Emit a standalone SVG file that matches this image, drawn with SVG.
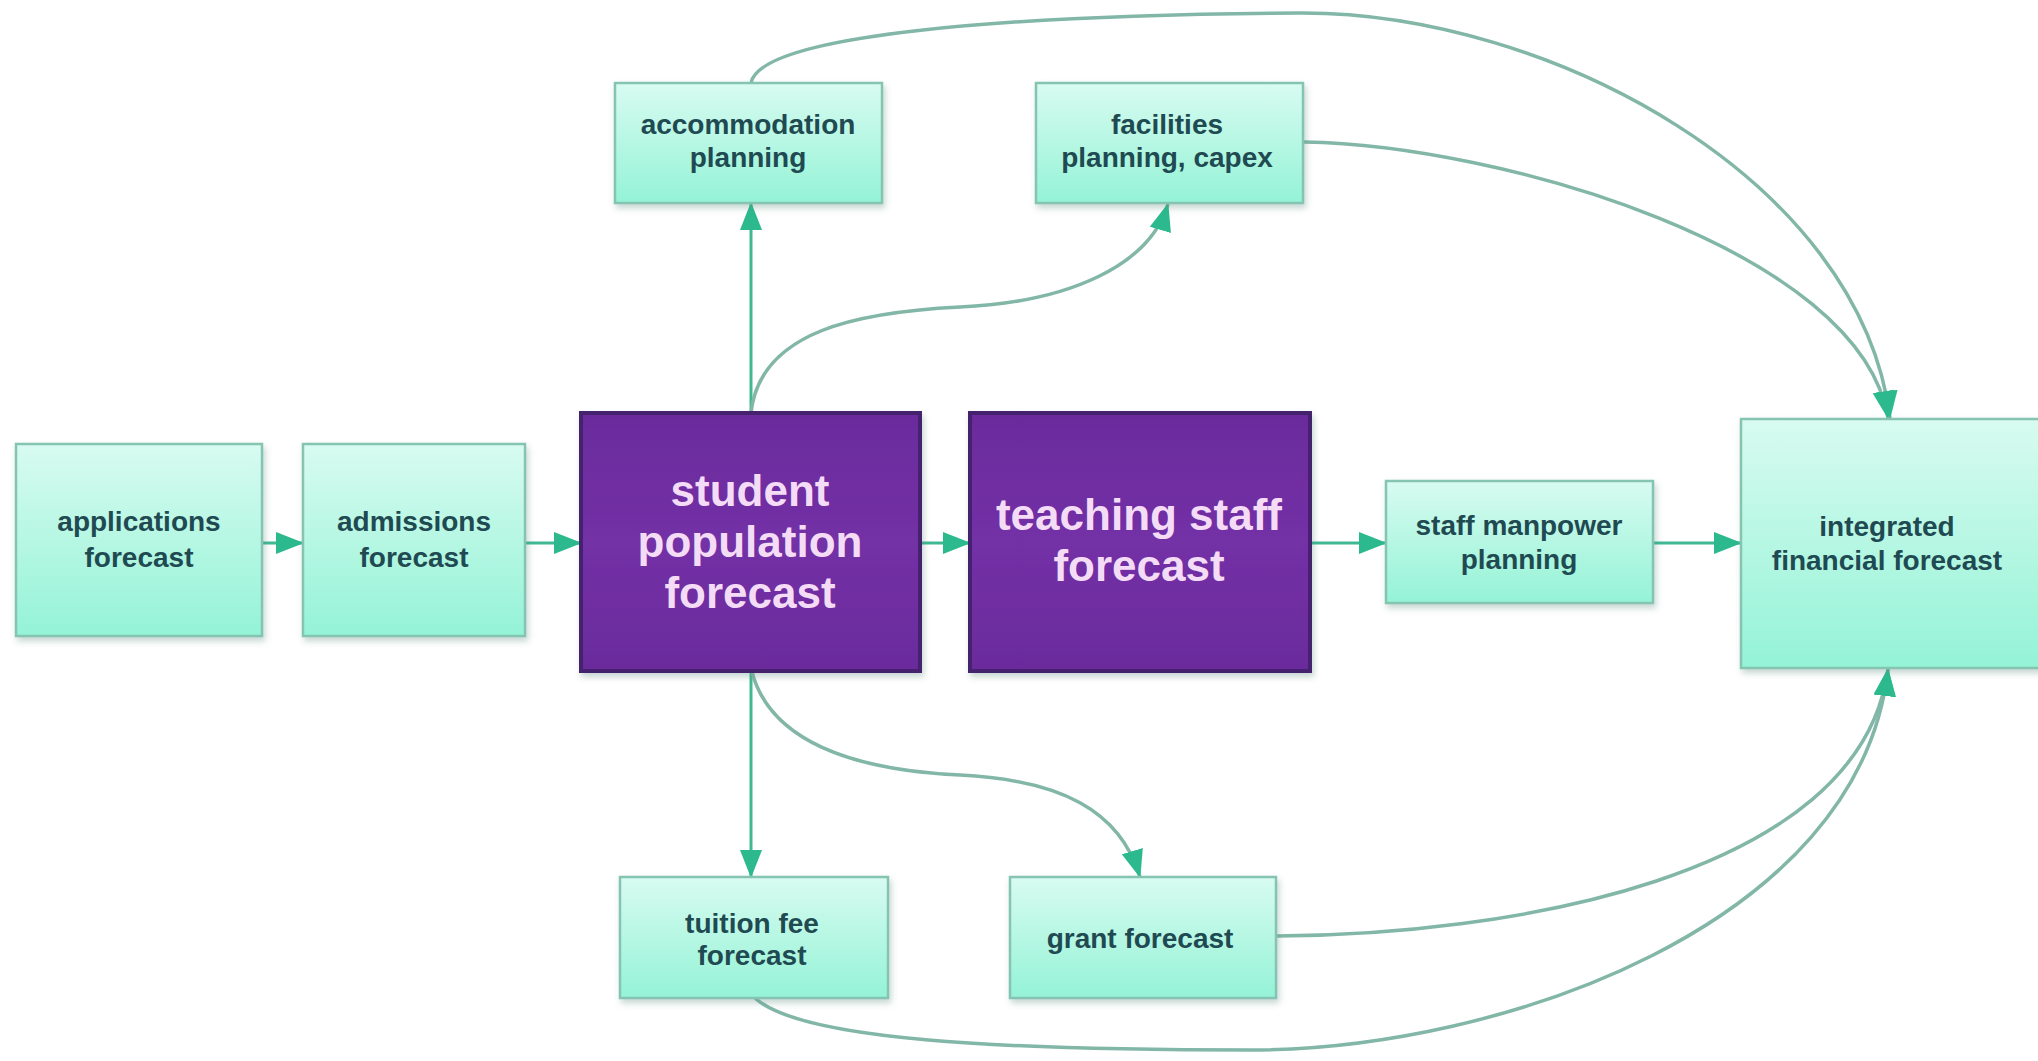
<svg xmlns="http://www.w3.org/2000/svg" width="2038" height="1061" viewBox="0 0 2038 1061">
<defs>
<linearGradient id="mint" x1="0" y1="0" x2="0" y2="1">
<stop offset="0" stop-color="#d8fbf1"/>
<stop offset="1" stop-color="#94f3d6"/>
</linearGradient>
<linearGradient id="purp" x1="0" y1="0" x2="0" y2="1">
<stop offset="0" stop-color="#6a2c9c"/>
<stop offset="0.5" stop-color="#7330a6"/>
<stop offset="1" stop-color="#6a2c9c"/>
</linearGradient>
<filter id="sh" x="-10%" y="-10%" width="125%" height="130%">
<feDropShadow dx="2" dy="4" stdDeviation="3" flood-color="#5a8a7e" flood-opacity="0.35"/>
</filter>
<marker id="ah" viewBox="0 0 28 22" refX="27" refY="11" markerWidth="28" markerHeight="22" markerUnits="userSpaceOnUse" orient="auto">
<path d="M0,0 L28,11 L0,22 z" fill="#2bb98d"/>
</marker>
<style>
.lb{fill:url(#mint);stroke:#86c4b2;stroke-width:2.5;filter:url(#sh)}
.pb{fill:url(#purp);stroke:#45206e;stroke-width:4;filter:url(#sh)}
.lt{font-family:"Liberation Sans",Arial,sans-serif;font-weight:bold;font-size:28px;fill:#1f4a52;text-anchor:middle}
.pt{font-family:"Liberation Sans",Arial,sans-serif;font-weight:bold;font-size:44px;fill:#f4dcf6;text-anchor:middle}
.st{fill:none;stroke:#3fb893;stroke-width:3;marker-end:url(#ah)}
.cv{fill:none;stroke:#82b7a8;stroke-width:3.5;marker-end:url(#ah)}
</style>
</defs>
<rect width="2038" height="1061" fill="#ffffff"/>

<g id="connectors">
<path class="st" d="M262,543 H303"/>
<path class="st" d="M525,543 H581"/>
<path class="st" d="M920,543 H970"/>
<path class="st" d="M1310,543 H1386"/>
<path class="st" d="M1653,543 H1741"/>
<path class="st" d="M751,413 V203"/>
<path class="st" d="M751,671 V877"/>
<path class="cv" d="M751,413 C760,330 860,312 960,307 C1070,302 1150,265 1168,204"/>
<path class="cv" d="M752,672 C770,740 850,770 960,775 C1060,780 1120,810 1140,877"/>
<path class="cv" d="M751,83 C760,35 1000,15 1300,13 C1550,12 1860,180 1890,418"/>
<path class="cv" d="M1304,142 C1500,145 1860,250 1888,418"/>
<path class="cv" d="M1277,936 C1500,935 1860,880 1888,669"/>
<path class="cv" d="M755,998 C800,1040 1000,1050 1250,1050 C1500,1050 1860,925 1888,669"/>
</g>

<g id="applications">
<rect class="lb" x="16" y="444" width="246" height="192"/>
<text class="lt" x="139" y="531">applications</text>
<text class="lt" x="139" y="567">forecast</text>
</g>
<g id="admissions">
<rect class="lb" x="303" y="444" width="222" height="192"/>
<text class="lt" x="414" y="531">admissions</text>
<text class="lt" x="414" y="567">forecast</text>
</g>
<g id="student">
<rect class="pb" x="581" y="413" width="339" height="258"/>
<text class="pt" x="750" y="506">student</text>
<text class="pt" x="750" y="557">population</text>
<text class="pt" x="750" y="608">forecast</text>
</g>
<g id="teaching">
<rect class="pb" x="970" y="413" width="340" height="258"/>
<text class="pt" x="1139" y="530">teaching staff</text>
<text class="pt" x="1139" y="581">forecast</text>
</g>
<g id="manpower">
<rect class="lb" x="1386" y="481" width="267" height="122"/>
<text class="lt" x="1519" y="535">staff manpower</text>
<text class="lt" x="1519" y="569">planning</text>
</g>
<g id="integrated">
<rect class="lb" x="1741" y="419" width="300" height="249"/>
<text class="lt" x="1887" y="536">integrated</text>
<text class="lt" x="1887" y="570">financial forecast</text>
</g>
<g id="accommodation">
<rect class="lb" x="615" y="83" width="267" height="120"/>
<text class="lt" x="748" y="134">accommodation</text>
<text class="lt" x="748" y="167">planning</text>
</g>
<g id="facilities">
<rect class="lb" x="1036" y="83" width="267" height="120"/>
<text class="lt" x="1167" y="134">facilities</text>
<text class="lt" x="1167" y="167">planning, capex</text>
</g>
<g id="tuition">
<rect class="lb" x="620" y="877" width="268" height="121"/>
<text class="lt" x="752" y="933">tuition fee</text>
<text class="lt" x="752" y="965">forecast</text>
</g>
<g id="grant">
<rect class="lb" x="1010" y="877" width="266" height="121"/>
<text class="lt" x="1140" y="948">grant forecast</text>
</g>
</svg>
